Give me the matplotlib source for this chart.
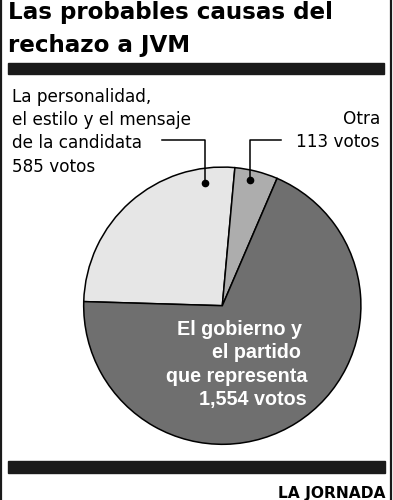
import matplotlib.pyplot as plt
from matplotlib.patches import Rectangle

plt.rcParams['font.family'] = ['DejaVu Sans']

# data
causes = ['La personalidad,\nel estilo y el mensaje\nde la candidata', 'Otra', 'El gobierno y\nel partido\nque representa']
votes = [585, 113, 1554]
colors = ['#e6e6e6', '#adadad', '#6f6f6f']

W, H = 393, 500
fig = plt.figure(figsize=(W / 100, H / 100), dpi=100)

# pie axes: centre (222, 306) px, radius 140 px
cx, cy, r = 222.3, 305.7, 140
ax = fig.add_axes([(cx - r) / W, (H - cy - r) / H, 2 * r / W, 2 * r / H])
wedges, _ = ax.pie(votes, colors=colors, startangle=178.3, counterclock=False,
                   wedgeprops=dict(edgecolor='black', linewidth=1.1))
ax.set_xlim(-1.01, 1.01)
ax.set_ylim(-1.01, 1.01)
ax.axis('off')

# overlay in pixel coordinates for text and decorations
ov = fig.add_axes([0, 0, 1, 1], zorder=3)
ov.set_xlim(0, W)
ov.set_ylim(H, 0)
ov.axis('off')

# frame and black bars
ov.plot([1, 1], [0, H], color='#1a1a1a', lw=1.6)
ov.plot([391, 391], [0, H], color='#1a1a1a', lw=1.6)
ov.add_patch(Rectangle((8, 63), 376, 10.5, color='#1a1a1a'))
ov.add_patch(Rectangle((8, 461), 377, 11.5, color='#1a1a1a'))

# title
ov.text(8, 19, 'Las probables causas del', fontsize=16.6, fontweight='bold', va='baseline', ha='left')
ov.text(8, 52, 'rechazo a JVM', fontsize=16.6, fontweight='bold', va='baseline', ha='left')

# left label
lab1 = ['La personalidad,', 'el estilo y el mensaje', 'de la candidata', f'{votes[0]} votos']
for i, s in enumerate(lab1):
    ov.text(12, 101.7 + i * 23.3, s, fontsize=12.2, va='baseline', ha='left')

# right label
ov.text(380, 123.5, 'Otra', fontsize=12.2, va='baseline', ha='right')
ov.text(380, 146.8, f'{votes[1]} votos', fontsize=12.2, va='baseline', ha='right')

# leader lines with dots
ov.plot([162, 205, 205], [140, 140, 183.3], color='black', lw=1.1)
ov.plot(205, 183.3, 'o', color='black', ms=4.5)
ov.plot([281, 250, 250], [140, 140, 180], color='black', lw=1.1)
ov.plot(250, 180, 'o', color='black', ms=4.5)

# label inside dark slice
lab3 = ['El gobierno y', 'el partido', 'que representa', '1,554 votos']
rights = [302, 301, 307, 307]
for i, s in enumerate(lab3):
    ov.text(rights[i], 335 + i * 23.3, s, fontsize=14.2, fontweight='bold', color='white',
            family='Liberation Sans', va='baseline', ha='right')

# source
ov.text(385, 498, 'LA JORNADA', fontsize=11.2, fontweight='bold', va='baseline', ha='right')

fig.savefig('out.png', dpi=100, facecolor='white')
